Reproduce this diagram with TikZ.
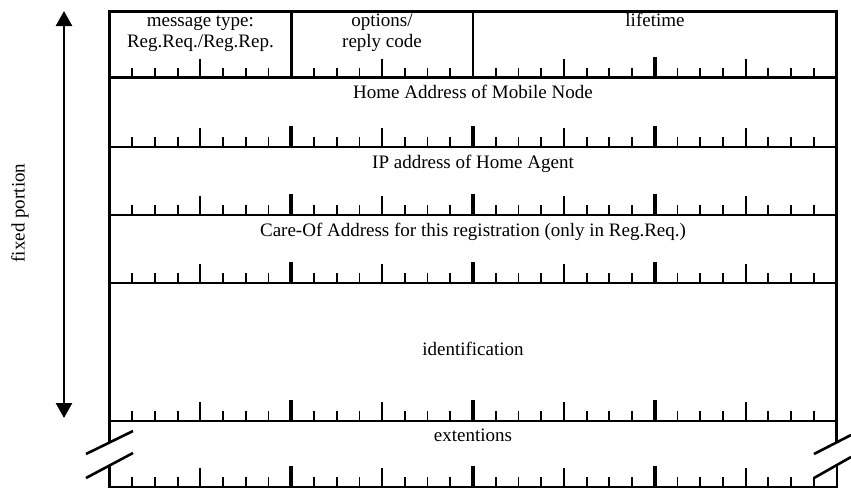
\documentclass[tikz,border=0pt]{standalone}
\usepackage{fontspec}
\setmainfont{Liberation Serif}
\usetikzlibrary{arrows.meta}
\begin{document}
\begin{tikzpicture}[x=1pt,y=-1pt,
  frame/.style={line width=2.6pt},
  tickthin/.style={line width=1.8pt},
  tickthick/.style={line width=3.6pt},
  breakline/.style={line width=2.6pt},
  lbl/.style={inner sep=0pt, anchor=base, font=\fontsize{19}{21}\selectfont, align=center},
  span/.style={line width=2.6pt, {Triangle[length=15pt,width=16pt]}-{Triangle[length=15pt,width=16pt]}}]
\useasboundingbox (0,0) rectangle (851,488);
% horizontal row lines
\foreach \yy in {11.5,77.5,147,215,283,421}
  \draw[frame] (109.5,\yy) -- (836.5,\yy);
\draw[frame] (109.5,487) -- (837,487);
% outer verticals with break marks
\draw[frame] (109.5,10.2) -- (109.5,442.3);
\draw[frame] (836.5,10.2) -- (836.5,442.2);
\draw[frame] (109.5,466.3) -- (109.5,488);
\draw[frame] (837,465) -- (837,488);
% field dividers in first row
\draw[frame] (291.3,11.5) -- (291.3,77.5);
\draw[frame] (473.0,11.5) -- (473.0,77.5);
% break slashes
\draw[breakline] (86,454) -- (133,431);
\draw[breakline] (86,478) -- (133,453);
\draw[breakline] (814,454) -- (851,435);
\draw[breakline] (814,478) -- (851,457);
% bit ticks
\foreach \yy in {77.5,147,215,283,421,487} {
  \foreach \k in {1,...,31} {
    \pgfmathsetmacro\xx{109.5+\k*22.72}
    \pgfmathtruncatemacro\mA{mod(\k,8)}
    \pgfmathtruncatemacro\mB{mod(\k,4)}
    \pgfmathtruncatemacro\sk{and(\yy<80, or(\k==8,\k==16))}
    \ifnum\sk=0
      \ifnum\mA=0
        \draw[tickthick] (\xx,\yy) -- ++(0,-21);
      \else\ifnum\mB=0
        \draw[tickthin] (\xx,\yy) -- ++(0,-19);
      \else
        \draw[tickthin] (\xx,\yy) -- ++(0,-10);
      \fi\fi
    \fi
  }
}
% field labels
\node[lbl] (mtype) at (200.4,47) {message type:\\Reg.Req./Reg.Rep.};
\node[lbl] (opts) at (382,47) {options/\\reply code};
\node[lbl] (life) at (655,26) {lifetime};
\node[lbl] (home) at (473,98) {Home Address of Mobile Node};
\node[lbl] (ha) at (473,168) {IP address of Home Agent};
\node[lbl] (coa) at (473,236) {Care-Of Address for this registration (only in Reg.Req.)};
\node[lbl] (ident) at (473,355) {identification};
\node[lbl] (ext) at (473,441) {extentions};
% fixed portion span
\coordinate (fptop) at (64,11);
\coordinate (fpbot) at (64,418);
\draw[span] (fpbot) -- (fptop);
\node[lbl, anchor=center, rotate=90] (fixed) at (20,213) {fixed portion};
\end{tikzpicture}
\end{document}
